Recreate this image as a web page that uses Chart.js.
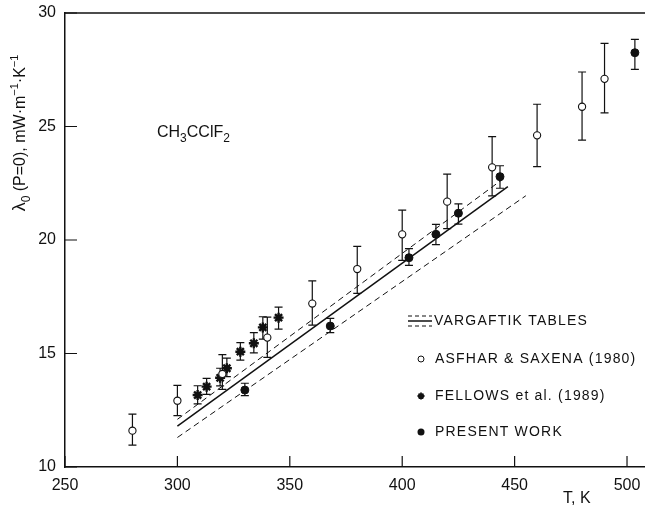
<!DOCTYPE html>
<html>
<head>
<meta charset="utf-8">
<script src="https://cdn.jsdelivr.net/npm/chart.js@4.4.0/dist/chart.umd.min.js"></script>
<style>
  body { margin: 0; background: #fff; }
  #grafico1 { width: 645px; height: 519px; position: relative; }
</style>
</head>
<body>
<div id="grafico1"><canvas id="myChart"></canvas></div>
<script>
// tick labels
const xTicks = [250, 300, 350, 400, 450, 500];
const yTicks = [10, 15, 20, 25, 30];

// Vargaftik tables: recommended line and its uncertainty band
const vargT = [300, 447];
const vargMid = [11.8, 22.35];
const vargUpT = [300, 445];
const vargUp = [12.1, 22.7];
const vargLoT = [300, 455];
const vargLo = [11.3, 21.95];

// Asfhar & Saxena (1980)
const asfT = [280, 300, 320, 340, 360, 380, 400, 420, 440, 460, 480, 490];
const asfVal = [11.6, 12.92, 14.1, 15.7, 17.2, 18.72, 20.25, 21.69, 23.2, 24.61, 25.87, 27.1];
const asfLow = [10.96, 12.26, 13.42, 14.83, 16.25, 17.65, 19.1, 20.5, 21.94, 23.23, 24.4, 25.6];
const asfHigh = [12.33, 13.6, 14.95, 16.6, 18.2, 19.72, 21.32, 22.9, 24.55, 25.98, 27.4, 28.66];

// Fellows et al. (1989)
const felT = [309, 313, 319, 322, 328, 334, 338, 345];
const felVal = [13.17, 13.54, 13.93, 14.35, 15.08, 15.45, 16.15, 16.58];
const felLow = [12.78, 13.2, 13.57, 13.98, 14.71, 15.03, 15.63, 16.07];
const felHigh = [13.58, 13.9, 14.35, 14.8, 15.48, 15.92, 16.62, 17.04];

// present work
const presT = [330, 368, 403, 415, 425, 443.5, 503.5];
const presVal = [13.39, 16.21, 19.22, 20.25, 21.18, 22.79, 28.25];
const presLow = [13.14, 15.92, 18.88, 19.8, 20.7, 22.28, 27.52];
const presHigh = [13.69, 16.55, 19.62, 20.69, 21.59, 23.27, 28.84];

function pts(xs, ys) {
  return xs.map((v, i) => ({ x: v, y: ys[i] }));
}

const FONT = '"Liberation Sans", Arial, sans-serif';

// draws text pieces (subscripts / superscripts) from left to right on the baseline
function richText(ctx, x, y, parts) {
  parts.forEach(p => {
    ctx.font = p.size + 'px ' + FONT;
    ctx.fillText(p.t, x, y + (p.dy || 0));
    x += ctx.measureText(p.t).width;
  });
}
function richWidth(ctx, parts) {
  let w = 0;
  parts.forEach(p => {
    ctx.font = p.size + 'px ' + FONT;
    w += ctx.measureText(p.t).width;
  });
  return w;
}

function drawStar(ctx, x, y, r) {
  ctx.beginPath();
  for (let k = 0; k < 4; k++) {
    const a = k * Math.PI / 4;
    ctx.moveTo(x - r * Math.cos(a), y - r * Math.sin(a));
    ctx.lineTo(x + r * Math.cos(a), y + r * Math.sin(a));
  }
  ctx.stroke();
}

const extras = {
  id: 'extras',
  beforeDatasetsDraw(chart) {
    const ctx = chart.ctx, xs = chart.scales.x, ys = chart.scales.y;
    ctx.save();
    ctx.strokeStyle = '#111';
    ctx.lineWidth = 1.2;
    chart.data.datasets.forEach(ds => {
      if (!ds.errLow) return;
      ds.data.forEach((p, i) => {
        const px = xs.getPixelForValue(p.x);
        const y1 = ys.getPixelForValue(ds.errLow[i]);
        const y2 = ys.getPixelForValue(ds.errHigh[i]);
        ctx.beginPath();
        ctx.moveTo(px, y1); ctx.lineTo(px, y2);
        ctx.moveTo(px - 4, y1); ctx.lineTo(px + 4, y1);
        ctx.moveTo(px - 4, y2); ctx.lineTo(px + 4, y2);
        ctx.stroke();
      });
    });
    ctx.restore();
  },
  afterDraw(chart) {
    const ctx = chart.ctx, a = chart.chartArea;
    const xs = chart.scales.x, ys = chart.scales.y;
    ctx.save();
    ctx.strokeStyle = '#111';
    ctx.fillStyle = '#111';

    // top frame line
    ctx.lineWidth = 1.5;
    ctx.beginPath();
    ctx.moveTo(a.left, a.top); ctx.lineTo(a.right, a.top);
    ctx.stroke();

    // inward tick marks
    ctx.lineWidth = 1.2;
    ctx.beginPath();
    xTicks.forEach(v => {
      const px = xs.getPixelForValue(v);
      ctx.moveTo(px, a.bottom); ctx.lineTo(px, a.bottom - 11);
    });
    yTicks.forEach(v => {
      const py = ys.getPixelForValue(v);
      ctx.moveTo(a.left, py); ctx.lineTo(a.left + 12, py);
    });
    ctx.stroke();

    ctx.textBaseline = 'alphabetic';
    ctx.textAlign = 'left';

    // compound name
    richText(ctx, 157, 137, [
      { t: 'CH', size: 16 }, { t: '3', size: 12, dy: 5 },
      { t: 'CClF', size: 16 }, { t: '2', size: 12, dy: 5 }
    ]);

    // x title
    ctx.font = '16px ' + FONT;
    ctx.fillText('T, K', 563, 503);

    // y title (rotated)
    const yParts = [
      { t: 'λ', size: 18 }, { t: '0', size: 12, dy: 5 },
      { t: ' (P=0), mW·m', size: 16 }, { t: '−1', size: 11, dy: -7 },
      { t: '·K', size: 16 }, { t: '−1', size: 11, dy: -7 }
    ];
    ctx.save();
    ctx.translate(25, 133);
    ctx.rotate(-Math.PI / 2);
    richText(ctx, -richWidth(ctx, yParts) / 2, 0, yParts);
    ctx.restore();

    // legend
    ctx.font = '14px ' + FONT;
    ctx.letterSpacing = '1.2px';
    ctx.textBaseline = 'middle';
    ctx.lineWidth = 1.2;
    ctx.setLineDash([4, 3]);
    ctx.beginPath();
    ctx.moveTo(408, 316); ctx.lineTo(432, 316);
    ctx.moveTo(408, 326); ctx.lineTo(432, 326);
    ctx.stroke();
    ctx.setLineDash([]);
    ctx.lineWidth = 1.5;
    ctx.beginPath();
    ctx.moveTo(408, 321); ctx.lineTo(432, 321);
    ctx.stroke();
    ctx.fillText('VARGAFTIK TABLES', 434, 321);

    ctx.lineWidth = 1;
    ctx.beginPath();
    ctx.arc(421, 359, 3, 0, Math.PI * 2);
    ctx.stroke();
    ctx.fillText('ASFHAR & SAXENA (1980)', 435, 359);

    ctx.lineWidth = 1.8;
    drawStar(ctx, 421, 396, 3.5);
    ctx.fillText('FELLOWS et al. (1989)', 435, 396);

    ctx.beginPath();
    ctx.arc(421, 432, 3.5, 0, Math.PI * 2);
    ctx.fill();
    ctx.fillText('PRESENT WORK', 435, 432);

    ctx.restore();
  }
};

const data = {
  datasets: [
    {
      label: 'Vargaftik',
      data: pts(vargT, vargMid),
      showLine: true, borderColor: '#111', borderWidth: 1.5, pointRadius: 0
    },
    {
      label: 'Vargaftik upper',
      data: pts(vargUpT, vargUp),
      showLine: true, borderColor: '#111', borderWidth: 1, borderDash: [6, 4], pointRadius: 0
    },
    {
      label: 'Vargaftik lower',
      data: pts(vargLoT, vargLo),
      showLine: true, borderColor: '#111', borderWidth: 1, borderDash: [6, 4], pointRadius: 0
    },
    {
      label: 'Asfhar & Saxena (1980)',
      data: pts(asfT, asfVal), errLow: asfLow, errHigh: asfHigh,
      pointStyle: 'circle', pointRadius: 3.6, pointBackgroundColor: '#fff',
      pointBorderColor: '#111', pointBorderWidth: 1.1
    },
    {
      label: 'Fellows et al. (1989)',
      data: pts(felT, felVal), errLow: felLow, errHigh: felHigh,
      pointStyle: 'star', pointRadius: 5, pointBorderColor: '#111', pointBorderWidth: 2.4
    },
    {
      label: 'Present work',
      data: pts(presT, presVal), errLow: presLow, errHigh: presHigh,
      pointStyle: 'circle', pointRadius: 4, pointBackgroundColor: '#111',
      pointBorderColor: '#111', pointBorderWidth: 1
    }
  ]
};

const config = {
  type: 'scatter',
  data: data,
  options: {
    responsive: true,
    maintainAspectRatio: false,
    animation: false,
    layout: { autoPadding: false, padding: { top: 13, right: 0, left: 0, bottom: 0 } },
    plugins: { legend: { display: false }, tooltip: { enabled: false } },
    scales: {
      x: {
        type: 'linear', min: 250, max: 508,
        afterFit: s => { s.height = 52; s.paddingLeft = 0; s.paddingRight = 0; },
        grid: { drawOnChartArea: false, drawTicks: false },
        border: { color: '#111', width: 1.5 },
        ticks: { stepSize: 50, includeBounds: false, padding: 9, color: '#111',
                 font: { family: FONT, size: 16 } }
      },
      y: {
        min: 10, max: 30,
        afterFit: s => { s.width = 65; s.paddingTop = 0; s.paddingBottom = 0; },
        grid: { drawOnChartArea: false, drawTicks: false },
        border: { color: '#111', width: 1.5 },
        ticks: { stepSize: 5, padding: 9, color: '#111',
                 font: { family: FONT, size: 16 } }
      }
    }
  },
  plugins: [extras]
};

const myChart = new Chart(document.getElementById('myChart'), config);
</script>
</body>
</html>
